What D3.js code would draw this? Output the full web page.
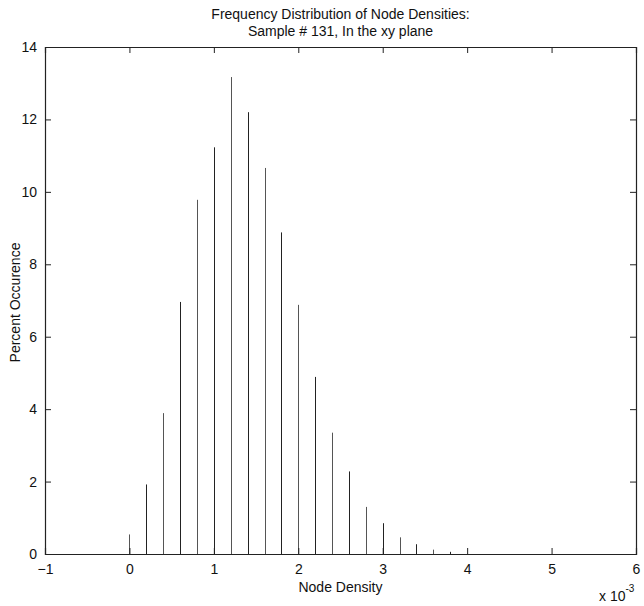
<!DOCTYPE html>
<html>
<head>
<meta charset="utf-8">
<script src="https://cdn.jsdelivr.net/npm/d3@7"></script>
<style>
  body { margin: 0; background: #fff; }
  text { font-family: "Liberation Sans", Arial, Helvetica, sans-serif; fill: #111; }
</style>
</head>
<body>
<div id="chart"></div>
<script>
// node density bins (x 10^-3) and percent occurence
const densities = [0, 0.2, 0.4, 0.6, 0.8, 1.0, 1.2, 1.4, 1.6, 1.8, 2.0, 2.2, 2.4, 2.6, 2.8, 3.0, 3.2, 3.4, 3.6, 3.8];
const percents  = [0.54, 1.92, 3.89, 6.96, 9.78, 11.23, 13.17, 12.2, 10.66, 8.88, 6.88, 4.89, 3.35, 2.28, 1.3, 0.85, 0.46, 0.27, 0.12, 0.06];
const xTicks = [-1, 0, 1, 2, 3, 4, 5, 6];
const yTicks = [0, 2, 4, 6, 8, 10, 12, 14];
const titleLines = ['Frequency Distribution of Node Densities:', 'Sample # 131, In the xy plane'];

const W = 644, H = 606;
const m = { left: 45, right: 8, top: 47, bottom: 52 };
const fs = 14;

const svg = d3.select('#chart').append('svg')
  .attr('width', W).attr('height', H);

const x = d3.scaleLinear().domain([-1, 6]).range([m.left, W - m.right]);
const y = d3.scaleLinear().domain([0, 14]).range([H - m.bottom, m.top]);

// stems
svg.append('g').selectAll('line')
  .data(densities)
  .enter().append('line')
    .attr('x1', d => Math.round(x(d)) + 0.5)
    .attr('x2', d => Math.round(x(d)) + 0.5)
    .attr('y1', y(0))
    .attr('y2', (d, i) => y(percents[i]))
    .attr('stroke', (d, i) => i % 2 ? '#222' : '#555')
    .attr('stroke-width', 1);

// axes, matlab style: inward ticks on all four sides
const tk = 6;
svg.append('g')
  .attr('transform', 'translate(0,' + y(0) + ')')
  .call(d3.axisBottom(x).tickValues(xTicks).tickSize(-tk).tickPadding(tk + 4).tickFormat(d3.format('d')));
svg.append('g')
  .attr('transform', 'translate(0,' + y(14) + ')')
  .call(d3.axisTop(x).tickValues(xTicks).tickSize(-tk).tickFormat(''));
svg.append('g')
  .attr('transform', 'translate(' + x(-1) + ',0)')
  .call(d3.axisLeft(y).tickValues(yTicks).tickSize(-tk).tickPadding(tk + 2).tickFormat(d3.format('d')));
svg.append('g')
  .attr('transform', 'translate(' + x(6) + ',0)')
  .call(d3.axisRight(y).tickValues(yTicks).tickSize(-tk).tickFormat(''));

svg.selectAll('.domain').attr('stroke', '#222').attr('stroke-width', 1.2);
svg.selectAll('.tick line').attr('stroke', '#222');
svg.selectAll('.tick text').attr('font-size', fs).attr('fill', '#111')
  .attr('font-family', '"Liberation Sans", Arial, sans-serif');

// title
svg.append('g').selectAll('text')
  .data(titleLines)
  .enter().append('text')
    .attr('x', (x(-1) + x(6)) / 2)
    .attr('y', (d, i) => 19 + i * 17)
    .attr('text-anchor', 'middle')
    .attr('font-size', fs)
    .text(d => d);

// axis labels
svg.append('text')
  .attr('x', (x(-1) + x(6)) / 2)
  .attr('y', 592)
  .attr('text-anchor', 'middle')
  .attr('font-size', fs)
  .text('Node Density');

svg.append('text')
  .attr('transform', 'translate(20,' + (y(7) + 2) + ') rotate(-90)')
  .attr('text-anchor', 'middle')
  .attr('font-size', fs)
  .text('Percent Occurence');

const ex = svg.append('text')
  .attr('x', 599)
  .attr('y', 601)
  .attr('font-size', fs);
ex.append('tspan').text('x 10');
ex.append('tspan').attr('dy', -9).attr('font-size', 10).text('-3');
</script>
</body>
</html>
